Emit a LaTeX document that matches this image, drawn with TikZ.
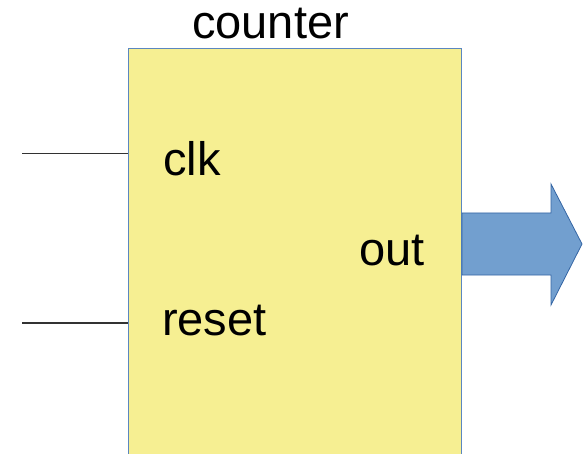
\documentclass[tikz,border=0pt]{standalone}
\usepackage{fontspec}
\setmainfont{Liberation Sans}
\definecolor{boxfill}{RGB}{246,239,146}
\definecolor{boxline}{RGB}{91,135,192}
\definecolor{arrfill}{RGB}{114,159,207}
\definecolor{arrline}{RGB}{52,101,164}
\definecolor{wire}{RGB}{50,50,50}
\tikzset{
  lbl/.style={inner sep=0pt, anchor=base west, font=\fontsize{47bp}{53bp}\selectfont, text=black},
  blockbox/.style={draw=boxline, fill=boxfill, line width=1bp, inner sep=0pt, anchor=north west, minimum width=333bp, minimum height=420bp},
  wireline/.style={draw=wire, line width=1.2bp},
  bigarrow/.style={fill=arrfill, draw=arrline, line width=0.8bp, line join=miter}
}
\begin{document}
\begin{tikzpicture}[x=1bp,y=-1bp]
\useasboundingbox (0,0) rectangle (586,454);
\clip (0,0) rectangle (586,454);
\node[blockbox] (box) at (128,48) {};
\node[lbl] (title) at (192,39) {counter};
\node[lbl] (clk) at (163,176) {clk};
\node[lbl] (reset) at (162,335) {reset};
\node[lbl] (out) at (359,266) {out};
\coordinate (clkin) at (22,153.5);
\coordinate (rstin) at (22,323);
\draw[wireline] (clkin) -- (clkin -| box.west);
\draw[wireline] (rstin) -- (rstin -| box.west);
\path[bigarrow] (box.east |- 0,213) coordinate (a1) -- (551,213) -- (551,184) -- (582,244) coordinate (tip) -- (551,305) -- (551,275) -- (box.east |- 0,275) -- cycle;
\end{tikzpicture}
\end{document}
